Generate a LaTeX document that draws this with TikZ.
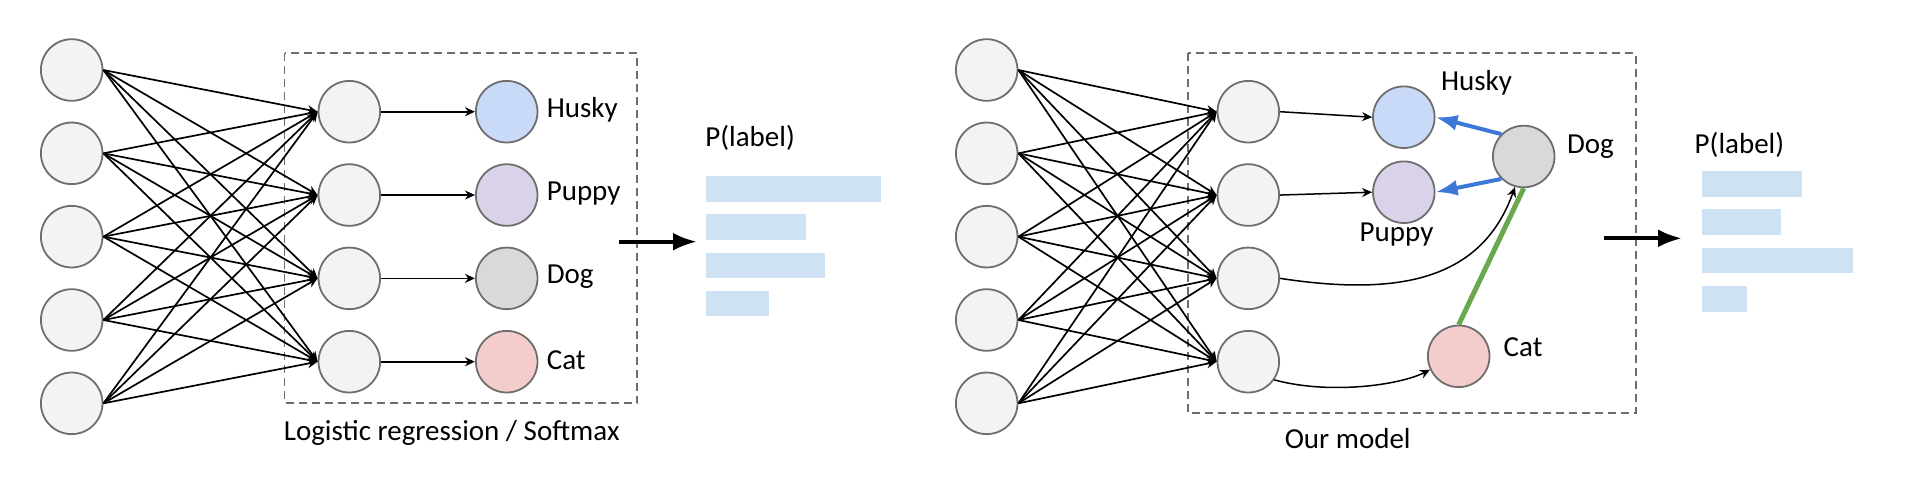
\documentclass[tikz,border=0pt]{standalone}
\usepackage{fontspec}
\setmainfont{Carlito}
\usetikzlibrary{arrows.meta}

\definecolor{unitfill}{HTML}{F3F3F3}
\definecolor{unitline}{HTML}{6E6E6E}
\definecolor{huskyfill}{HTML}{C9DAF8}
\definecolor{puppyfill}{HTML}{D9D2E9}
\definecolor{dogfill}{HTML}{D9D9D9}
\definecolor{catfill}{HTML}{F4CCCC}
\definecolor{barblue}{HTML}{CFE2F3}
\definecolor{linkblue}{HTML}{3C78D8}
\definecolor{linkgreen}{HTML}{6AA84F}

\begin{document}
\begin{tikzpicture}[x=0.5pt,y=-0.5pt,
    unit/.style={circle,draw=unitline,line width=0.9pt,fill=unitfill,minimum size=30.8pt,inner sep=0pt},
    txt/.style={font=\fontsize{14.5}{17}\selectfont,inner sep=0pt},
    wire/.style={line width=0.85pt,-{Stealth[length=5pt,width=4.5pt,inset=1.6pt]}},
    bigarrow/.style={line width=2pt,-{Latex[length=12pt,width=9pt]}},
    blueedge/.style={linkblue,line width=2pt,-{Latex[length=11pt,width=8pt]}},
    modelbox/.style={draw=unitline,line width=0.9pt,dash pattern=on 4pt off 2.5pt}]
    \useasboundingbox (0,0) rectangle (1906,494);

    % softmax network
    \draw[modelbox] (284.5,53.3) rectangle (637.3,403.3);
    \foreach \i in {1,...,5}
        \node[unit] (li\i) at (71.7,{70+83.33*(\i-1)}) {};
    \foreach \j in {1,...,4}
        \node[unit] (lh\j) at (349.3,{111.7+83.33*(\j-1)}) {};
    \foreach \i in {1,...,5}
        \foreach \j in {1,...,4}
            \draw[wire] (li\i.east) -- (lh\j.west);
    \foreach \name/\col [count=\j] in {Husky/huskyfill,Puppy/puppyfill,Dog/dogfill,Cat/catfill} {
        \node[unit,fill=\col] (lo\j) at (506.7,{111.7+83.33*(\j-1)}) {};
        \draw[wire] (lh\j.east) -- (lo\j.west);
        \node[txt,anchor=west] (lt\j) at ([xshift=4pt,yshift=1pt]lo\j.east) {\name};
    }
    \node[txt,anchor=base] (lcap) at (451.7,440.7) {Logistic regression / Softmax};

    \coordinate (la) at (619,241.7);
    \coordinate (lb) at (697,241.7);
    \draw[bigarrow] (la) -- (lb);
    \node[txt,anchor=base west] (lp) at (705,146.7) {P(label)};
    \fill[barblue] (706,176) rectangle (881,201.7);
    \fill[barblue] (706,214.3) rectangle (805.7,240);
    \fill[barblue] (706,252.7) rectangle (825,278.3);
    \fill[barblue] (706,290.7) rectangle (769,316.4);

    % our model
    \draw[modelbox] (1187.7,53.3) rectangle (1635.7,413);
    \foreach \i in {1,...,5}
        \node[unit] (ri\i) at (986.7,{70+83.33*(\i-1)}) {};
    \foreach \j in {1,...,4}
        \node[unit] (rh\j) at (1248.3,{111.7+83.33*(\j-1)}) {};
    \foreach \i in {1,...,5}
        \foreach \j in {1,...,4}
            \draw[wire] (ri\i.east) -- (rh\j.west);

    \node[unit,fill=huskyfill] (husky) at (1403.8,117.2) {};
    \node[unit,fill=puppyfill] (puppy) at (1403.8,192.2) {};
    \node[unit,fill=dogfill] (dog) at (1523.7,156.5) {};
    \node[unit,fill=catfill] (cat) at (1458.7,356.3) {};
    \node[txt,anchor=base west] (thusky) at (1440.7,90) {Husky};
    \node[txt,anchor=base west] (tpuppy) at (1359.3,241.7) {Puppy};
    \node[txt,anchor=base west] (tdog) at (1566.7,153.3) {Dog};
    \node[txt,anchor=base west] (tcat) at (1503.3,356.7) {Cat};

    \draw[wire,line width=0.75pt] (rh1.east) -- (husky.west);
    \draw[wire,line width=0.75pt] (rh2.east) -- (puppy.west);
    \draw[wire,line width=0.75pt] (rh3.east) .. controls (1390,295) and (1480,285) .. (dog.-106);
    \draw[wire,line width=0.75pt] (rh4.-35) .. controls (1330,395) and (1400,385) .. (cat.205);
    \draw[blueedge] (dog.135) -- (husky.east);
    \draw[blueedge] (dog.225) -- (puppy.east);
    \draw[linkgreen,line width=2.5pt] (dog.south) -- (cat.north);
    \node[txt,anchor=base] (rcap) at (1347.7,448.3) {Our model};

    \coordinate (ra) at (1604,238.3);
    \coordinate (rb) at (1682,238.3);
    \draw[bigarrow] (ra) -- (rb);
    \node[txt,anchor=base west] (rp) at (1694.3,153.3) {P(label)};
    \fill[barblue] (1702.3,171) rectangle (1802.3,196.7);
    \fill[barblue] (1702.3,209.3) rectangle (1781,235.3);
    \fill[barblue] (1702.3,247.7) rectangle (1853,273.3);
    \fill[barblue] (1702.3,286) rectangle (1747.3,311.7);
\end{tikzpicture}
\end{document}
